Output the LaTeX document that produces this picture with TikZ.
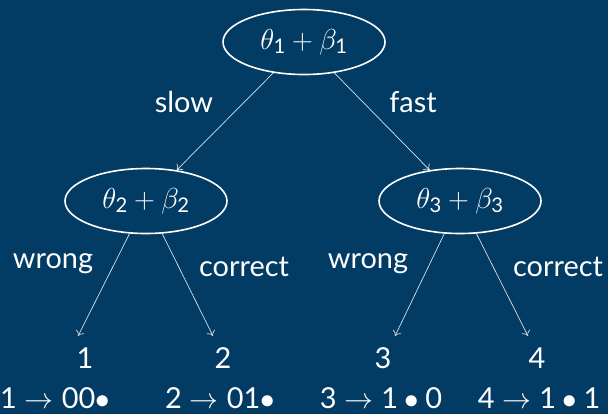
\RequirePackage{fix-cm}
\documentclass[tikz,border=0pt]{standalone}
\usepackage{amsmath}
\usepackage{fontspec}
\setmainfont{Lato}
\usetikzlibrary{shapes.geometric,arrows.meta}
\definecolor{bg}{RGB}{2,59,100}
\newcommand{\dg}[1]{\text{#1}}
\begin{document}
\begin{tikzpicture}[x=1bp,y=-1bp,
  font=\fontsize{29}{34}\selectfont,
  ell/.style={ellipse, draw=white, line width=1.6bp, minimum width=162bp,
    minimum height=65bp, inner sep=0pt, text=white},
  conn/.style={draw=white!85!bg, line width=0.7bp, -{To[length=5bp,width=9bp]}},
  lab/.style={text=white, anchor=base, inner sep=0pt}]
\fill[bg] (0,0) rectangle (608,414);
\useasboundingbox (0,0) rectangle (608,414);
\node[ell] (r) at (304,42) {$\theta_{\dg{1}}+\beta_{\dg{1}}$};
\node[ell] (a) at (146,201) {$\theta_{\dg{2}}+\beta_{\dg{2}}$};
\node[ell] (b) at (460,201) {$\theta_{\dg{3}}+\beta_{\dg{3}}$};
\coordinate (l1) at (78,336);
\coordinate (l2) at (213,336);
\coordinate (l3) at (395,336);
\coordinate (l4) at (528,336);
\draw[conn] (r) -- (a);
\draw[conn] (r) -- (b);
\draw[conn] (a) -- (l1);
\draw[conn] (a) -- (l2);
\draw[conn] (b) -- (l3);
\draw[conn] (b) -- (l4);
\node[lab] (slow) at (184,112) {slow};
\node[lab] (fast) at (413,112) {fast};
\node[lab] (w1) at (53,268) {wrong};
\node[lab] (c1) at (244,276) {correct};
\node[lab] (w2) at (368,268) {wrong};
\node[lab] (c2) at (558,276) {correct};
\node[lab] (n1) at (85,368) {1};
\node[lab] (n2) at (223,368) {2};
\node[lab] (n3) at (383,368) {3};
\node[lab] (n4) at (537,368) {4};
\node[lab] (m1) at (55,408) {$\dg{1}\rightarrow\dg{00}\bullet$};
\node[lab] (m2) at (220,408) {$\dg{2}\rightarrow\dg{01}\bullet$};
\node[lab] (m3) at (381,408) {$\dg{3}\rightarrow\dg{1}\bullet\dg{0}$};
\node[lab] (m4) at (539,408) {$\dg{4}\rightarrow\dg{1}\bullet\dg{1}$};
\end{tikzpicture}
\end{document}
